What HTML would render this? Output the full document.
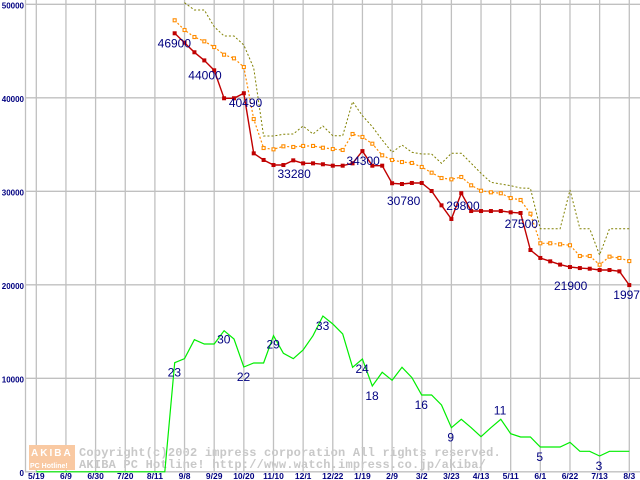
<!DOCTYPE html>
<html><head><meta charset="utf-8"><style>
html,body{margin:0;padding:0;background:#fff;}
svg{display:block;}
</style></head><body>
<svg id="chart" width="640" height="480" xmlns="http://www.w3.org/2000/svg"></svg>
<script>
// ---- data ----
const xTickLabels = ["5/19","6/9","6/30","7/20","8/11","9/8","9/29","10/20","11/10","12/1","12/22","1/19","2/9","3/2","3/23","4/13","5/11","6/1","6/22","7/13","8/3"];
const yTickValues = [0,10000,20000,30000,40000,50000];
const redStart = 14;
const redValues = [46900,45890,44870,44000,42940,39950,39950,40490,34060,33350,32810,32810,33310,32990,32990,32890,32740,32740,32990,34300,32740,32740,30860,30780,30890,30890,30030,28500,27040,29800,27890,27890,27890,27890,27750,27680,23720,22870,22510,22160,21900,21790,21720,21580,21580,21440,19970];
const orangeStart = 14;
const orangeValues = [48290,47250,46500,46040,45430,44610,44220,43290,37730,34630,34490,34810,34740,34850,34850,34660,34520,34420,36130,35810,35090,33850,33350,33130,33030,32600,31990,31420,31280,31530,30640,30060,29890,29790,29280,29070,27600,24440,24440,24330,24230,23080,23080,22150,23010,22870,22540];
const oliveStart = 15;
const oliveValues = [50170,49390,49390,47600,46610,46610,45650,43190,35910,35910,36100,36130,36980,36130,36980,35950,35950,39580,38090,36910,35490,34170,34950,34170,33990,33990,32990,34060,34060,32990,31930,30960,30780,30600,30350,30320,26000,26000,26000,30140,26000,26000,23190,26000,26000,26000];
const greenStart = 0;
const greenValues = [0,0,0,0,0,0,0,0,0,0,0,0,0,0,11670,12100,14130,13670,13670,15090,14200,11210,11640,11640,14560,12670,12100,13030,14560,16660,15810,14740,11180,12060,9180,10640,9790,11180,10070,8210,8210,7140,4720,5610,4720,3750,4720,5610,4070,3720,3720,2650,2650,2650,3150,2190,2190,1690,2190,2190,2190];
const priceLabelWeeks = [14,17,21,24,33,37,43,49,54,60];
const priceLabelTexts = ["46900","44000","40490","33280","34300","30780","29800","27500","21900","19970"];
const priceLabelDx = [-17,-16,-15,4,-16,-15,-15,-16,-16,-16];
const priceLabelDy = [14,19,14,13,14,21,17,15,23,14];
const countLabelWeeks = [14,19,21,24,29,33,34,40,42,47,51,57];
const countLabelTexts = ["23","30","22","29","33","24","18","16","9","11","5","3"];
const countLabelDx = [-7,-7,-7,-7,-7,-7,-7,-17,-4,-7,-4,-4];
const countLabelDy = [14,13,14,13,14,14,14,14,14,-5,14,14];

// ---- scales ----
const X0 = 36.3, DX = 9.883, Y0 = 471.8, PXPER = 9.35/1000;
const xs = w => X0 + DX*w;
const ys = v => Y0 - v*PXPER;

const svg = document.getElementById('chart');
const NS = 'http://www.w3.org/2000/svg';
function mk(tag, attrs, parent){const e=document.createElementNS(NS,tag);for(const k in attrs)e.setAttribute(k,attrs[k]);(parent||svg).appendChild(e);return e;}

// grid
const grid = mk('g',{});


mk('line',{x1:25.5,y1:0,x2:25.5,y2:472,stroke:'#c0c0c0','stroke-width':1.3},grid);
yTickValues.forEach(v=>{
  mk('line',{x1:25,y1:ys(v),x2:640,y2:ys(v),stroke:'#c0c0c0','stroke-width':1.3},grid);
});
xTickLabels.forEach((t,i)=>{
  const x = xs(i*3);
  mk('line',{x1:x,y1:0,x2:x,y2:472,stroke:'#c0c0c0','stroke-width':1.3},grid);
});

// watermark
const wm = mk('g',{});


mk('rect',{x:29,y:445,width:46,height:25,fill:'#f9c9a2'},wm);
const wl1 = mk('text',{x:31,y:456,'font-family':'Liberation Sans, sans-serif','font-size':10,'font-weight':'bold',fill:'#fff','letter-spacing':2},wm); wl1.textContent='AKIBA';
const wl2 = mk('text',{x:30,y:468,'font-family':'Liberation Sans, sans-serif','font-size':7,'font-weight':'bold',fill:'#fff'},wm); wl2.textContent='PC Hotline!';
const wt1 = mk('text',{x:79,y:456,'font-family':'Liberation Mono, monospace','font-size':12,'font-weight':'bold',fill:'#c8c8c8','letter-spacing':0.2},wm); wt1.textContent='Copyright(c)2002 impress corporation All rights reserved.';
const wt2 = mk('text',{x:79,y:468,'font-family':'Liberation Mono, monospace','font-size':12,'font-weight':'bold',fill:'#c8c8c8','letter-spacing':0.2},wm); wt2.textContent='AKIBA PC Hotline!  http://www.watch.impress.co.jp/akiba/';

// axes labels
yTickValues.forEach(v=>{
  const t = mk('text',{x:24,y:Math.max(ys(v)+4,8),'text-anchor':'end','font-family':'Liberation Sans, sans-serif','font-size':8,'font-weight':'bold',fill:'#000080'});
  
  
  t.textContent = v;
});
xTickLabels.forEach((s,i)=>{
  const t = mk('text',{x:xs(i*3),y:479,'text-anchor':'middle','font-family':'Liberation Sans, sans-serif','font-size':8.5,'font-weight':'bold',fill:'#000080'});
  
  
  t.textContent = s;
});

function pts(start, vals){return vals.map((v,i)=>xs(start+i).toFixed(1)+','+ys(v).toFixed(1)).join(' ');}

// green
const gl = mk('polyline',{points:pts(greenStart,greenValues),fill:'none',stroke:'#00ee00','stroke-width':1.2});



// olive
const ol = mk('polyline',{points:pts(oliveStart,oliveValues),fill:'none',stroke:'#808000','stroke-width':1,'stroke-dasharray':'2,2'});



// orange
const orl = mk('polyline',{points:pts(orangeStart,orangeValues),fill:'none',stroke:'#ff8c00','stroke-width':1.2,'stroke-dasharray':'2,2'});


orangeValues.forEach((v,i)=>{
  const r = mk('rect',{x:xs(orangeStart+i)-1.5,y:ys(v)-1.5,width:3,height:3,fill:'#fff',stroke:'#ff8c00','stroke-width':1.1});
  
  
});

// red
const rl = mk('polyline',{points:pts(redStart,redValues),fill:'none',stroke:'#c00000','stroke-width':1.4});


redValues.forEach((v,i)=>{
  const r = mk('rect',{x:xs(redStart+i)-2,y:ys(v)-2,width:4,height:4,fill:'#c00000'});
  
  
});

// labels
priceLabelTexts.forEach((s,i)=>{
  const w = priceLabelWeeks[i];
  const v = redValues[w-redStart];
  const t = mk('text',{x:xs(w)+priceLabelDx[i],y:ys(v)+priceLabelDy[i],'font-family':'Liberation Sans, sans-serif','font-size':12,fill:'#000080'});
  
  
  t.textContent = s;
});
countLabelTexts.forEach((s,i)=>{
  const w = countLabelWeeks[i];
  const v = greenValues[w-greenStart];
  const t = mk('text',{x:xs(w)+countLabelDx[i],y:ys(v)+countLabelDy[i],'font-family':'Liberation Sans, sans-serif','font-size':12,fill:'#000080'});
  
  
  t.textContent = s;
});
</script>
</body></html>
